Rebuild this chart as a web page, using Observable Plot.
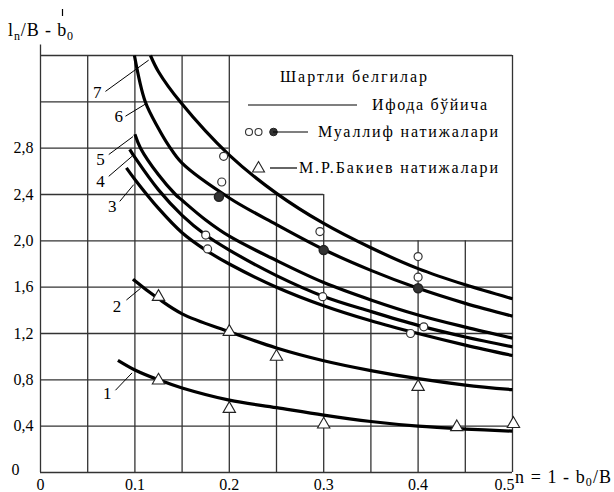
<!DOCTYPE html>
<html>
<head>
<meta charset="utf-8">
<script src="https://cdn.jsdelivr.net/npm/d3@7"></script>
<script src="https://cdn.jsdelivr.net/npm/@observablehq/plot@0.6"></script>
<style>
  html, body { margin: 0; padding: 0; background: #fff; }
  #wrap { position: relative; width: 614px; height: 492px; overflow: hidden; font-family: 'Liberation Serif', 'DejaVu Serif', serif; }
  #wrap > svg { position: absolute; left: 0; top: 0; }
  #wrap svg text { font-family: 'Liberation Serif', 'DejaVu Serif', serif !important; }
  #overlay { pointer-events: none; }
</style>
</head>
<body>
<div id="wrap"></div>
<script>
// ---- data ----
const curve1 = [[0.082,0.968],[0.1,0.885],[0.125,0.80],[0.15,0.73],[0.2,0.625],[0.25,0.56],[0.3,0.495],[0.35,0.44],[0.4,0.40],[0.45,0.375],[0.5,0.357]];
const curve2 = [[0.098,1.67],[0.1,1.655],[0.125,1.50],[0.15,1.37],[0.2,1.215],[0.25,1.075],[0.3,0.965],[0.35,0.88],[0.4,0.81],[0.45,0.755],[0.5,0.715]];
const curve3 = [[0.091,2.63],[0.1,2.53],[0.125,2.28],[0.15,2.07],[0.175,1.92],[0.2,1.80],[0.25,1.60],[0.3,1.44],[0.35,1.31],[0.4,1.20],[0.45,1.10],[0.5,1.01]];
const curve4 = [[0.0945,2.79],[0.1,2.72],[0.125,2.44],[0.15,2.22],[0.175,2.05],[0.2,1.92],[0.25,1.70],[0.3,1.52],[0.35,1.39],[0.4,1.27],[0.45,1.17],[0.5,1.085]];
const curve5 = [[0.1,2.92],[0.106,2.8],[0.125,2.57],[0.143,2.40],[0.15,2.35],[0.175,2.18],[0.2,2.04],[0.25,1.83],[0.3,1.64],[0.35,1.49],[0.4,1.36],[0.45,1.255],[0.5,1.16]];
const curve6 = [[0.0995,3.6],[0.111,3.2],[0.125,2.97],[0.136,2.82],[0.15,2.67],[0.2,2.37],[0.25,2.14],[0.3,1.925],[0.35,1.745],[0.4,1.59],[0.45,1.46],[0.5,1.35]];
const curve7 = [[0.1165,3.6],[0.125,3.46],[0.148,3.2],[0.2,2.74],[0.25,2.41],[0.3,2.15],[0.35,1.94],[0.4,1.76],[0.45,1.62],[0.5,1.50]];
const curveNames = ["1","2","3","4","5","6","7"];

// author's results (open and filled circles) and M.R. Bakiev's results (triangles)
const authorOpen = [[0.194,2.73],[0.192,2.508],[0.175,2.05],[0.177,1.93],[0.296,2.08],[0.299,1.518],[0.4,1.864],[0.4,1.686],[0.392,1.20],[0.406,1.258]];
const authorFilled = [[0.189,2.38],[0.3,1.92],[0.4,1.59]];
const bakiev = [[0.125,1.517],[0.2,1.215],[0.25,1.0],[0.4,0.74],[0.125,0.795],[0.2,0.55],[0.3,0.415],[0.441,0.392],[0.501,0.42]];

// curve number labels: [label x, label y, leader start x, y, leader end x, y]
const labelPos = [
  [0.0706,0.681, 0.0794,0.71, 0.097,0.86],
  [0.0811,1.431, 0.091,1.489, 0.106,1.59],
  [0.0759,2.297, 0.0839,2.34, 0.0987,2.485],
  [0.0635,2.513, 0.0723,2.557, 0.097,2.73],
  [0.0635,2.70, 0.0723,2.745, 0.098,2.90],
  [0.0829,3.076, 0.09,3.076, 0.111,3.18],
  [0.06,3.28, 0.0688,3.29, 0.1146,3.56]
];

// ticks and grid
const xTicks = [0, 0.1, 0.2, 0.3, 0.4];
const xLastTick = [0.5];
const yTicks = [0.4, 0.8, 1.2, 1.6, 2.0, 2.4, 2.8];
const yZeroTick = [0];
const gridXValues = [0, 0.05, 0.1, 0.15, 0.2, 0.25, 0.3, 0.35, 0.4, 0.45, 0.5];
const gridXTop    = [3.69, 3.6, 3.6, 3.6, 3.6, 2.4, 2.4, 2.0, 2.0, 2.0, 3.6];
const gridYValues = [0, 0.4, 0.8, 1.2, 1.6, 2.0, 2.4, 2.8, 3.2, 3.6];
const gridYRight  = [0.5, 0.5, 0.5, 0.5, 0.5, 0.5, 0.3, 0.2, 0.2, 0.5];

// legend texts
const legendTitle = "Шартли белгилар";
const legendItems = ["Ифода бўйича", "Муаллиф натижалари", "М.Р.Бакиев натижалари"];

// ---- build tables ----
const curves = [curve1, curve2, curve3, curve4, curve5, curve6, curve7];
const curveRows = curves.flatMap((c, i) => c.map(([x, y]) => ({curve: curveNames[i], x, y})));
const labelRows = labelPos.map((p, i) => ({name: curveNames[i], lx: p[0], ly: p[1], x1: p[2], y1: p[3], x2: p[4], y2: p[5]}));
const gridX = gridXValues.map((x, i) => ({x, top: gridXTop[i]}));
const gridY = gridYValues.map((y, i) => ({y, right: gridYRight[i]}));
const toPts = a => a.map(([x, y]) => ({x, y}));

const FONT = "'Liberation Serif', 'DejaVu Serif', serif";
const fmtY = d => d.toFixed(1).replace(".", ",");
const fmtX = d => d === 0 ? "0" : d.toFixed(1);

const chart = Plot.plot({
  width: 614,
  height: 492,
  marginLeft: 40,
  marginRight: 102,
  marginTop: 55,
  marginBottom: 20,
  x: {domain: [0, 0.5]},
  y: {domain: [0, 3.6]},
  style: {fontFamily: FONT, fontSize: "16px", background: "white", color: "black", overflow: "visible"},
  marks: [
    Plot.ruleX(gridX, {x: "x", y1: 0, y2: "top", stroke: "#333", strokeWidth: 1.3, strokeOpacity: 1}),
    Plot.ruleY(gridY, {y: "y", x1: 0, x2: "right", stroke: "#333", strokeWidth: 1.3, strokeOpacity: 1}),
    Plot.axisX({ticks: xTicks, tickSize: 0, tickPadding: 6, tickFormat: fmtX, label: null, fontSize: 16}),
    Plot.text(xLastTick, {x: d => d, y: 0, text: d => fmtX(d), dx: -8, dy: 6, lineAnchor: "top", fontSize: 16}),
    Plot.axisY({ticks: yTicks, tickSize: 0, tickPadding: 7, tickFormat: fmtY, label: null, fontSize: 16}),
    Plot.text(yZeroTick, {x: 0, y: d => d, text: d => String(d), dx: -25, dy: -3, fontSize: 16}),
    Plot.line(curveRows, {x: "x", y: "y", z: "curve", curve: "catmull-rom", stroke: "black", strokeWidth: 3.2, strokeLinecap: "butt"}),
    Plot.link(labelRows, {x1: "x1", y1: "y1", x2: "x2", y2: "y2", stroke: "black", strokeWidth: 1}),
    Plot.text(labelRows, {x: "lx", y: "ly", text: "name", fontSize: 17}),
    Plot.dot(toPts(authorOpen), {x: "x", y: "y", r: 4, stroke: "#333", strokeWidth: 1.2, fill: "white"}),
    Plot.dot(toPts(authorFilled), {x: "x", y: "y", r: 4.5, stroke: "#222", fill: "#333"}),
    Plot.dot(toPts(bakiev), {x: "x", y: "y", symbol: "triangle", r: 4.6, stroke: "#222", strokeWidth: 1.1, fill: "white"})
  ]
});

const wrap = document.getElementById("wrap");
wrap.appendChild(chart);

// overlay: axis titles and legend
const ns = "http://www.w3.org/2000/svg";
const ov = document.createElementNS(ns, "svg");
ov.setAttribute("id", "overlay");
ov.setAttribute("width", 614);
ov.setAttribute("height", 492);
ov.innerHTML = `
  <text x="8" y="36" font-size="18" textLength="65" lengthAdjust="spacing">l<tspan font-size="12" dy="4">n</tspan><tspan dy="-4">/B - b</tspan><tspan font-size="12" dy="4">0</tspan></text>
  <line x1="62.5" y1="9" x2="62.5" y2="16" stroke="black" stroke-width="1.2"/>
  <text x="515" y="483" font-size="18" textLength="96" lengthAdjust="spacing">n = 1 - b<tspan font-size="12" dy="3">0</tspan><tspan dy="-3">/B</tspan></text>
  <text x="280" y="82" font-size="16" textLength="147" lengthAdjust="spacing">${legendTitle}</text>
  <line x1="248" y1="105" x2="357" y2="105" stroke="black" stroke-width="1.2"/>
  <text x="372" y="110" font-size="16" textLength="115" lengthAdjust="spacing">${legendItems[0]}</text>
  <circle cx="249" cy="132" r="3.5" fill="white" stroke="#333" stroke-width="1.1"/>
  <circle cx="258.5" cy="132" r="3.5" fill="white" stroke="#333" stroke-width="1.1"/>
  <circle cx="273.5" cy="132" r="3.8" fill="#333" stroke="#222"/>
  <line x1="273" y1="132" x2="308" y2="132" stroke="black" stroke-width="1.2"/>
  <text x="318" y="137" font-size="16" textLength="180" lengthAdjust="spacing">${legendItems[1]}</text>
  <path d="M258.5,161.5 L264.5,172 L252.5,172 Z" fill="white" stroke="#222" stroke-width="1.1"/>
  <line x1="270" y1="168" x2="297" y2="168" stroke="black" stroke-width="1.2"/>
  <text x="299" y="173" font-size="16" textLength="199" lengthAdjust="spacing">${legendItems[2]}</text>
`;
wrap.appendChild(ov);
</script>
</body>
</html>
